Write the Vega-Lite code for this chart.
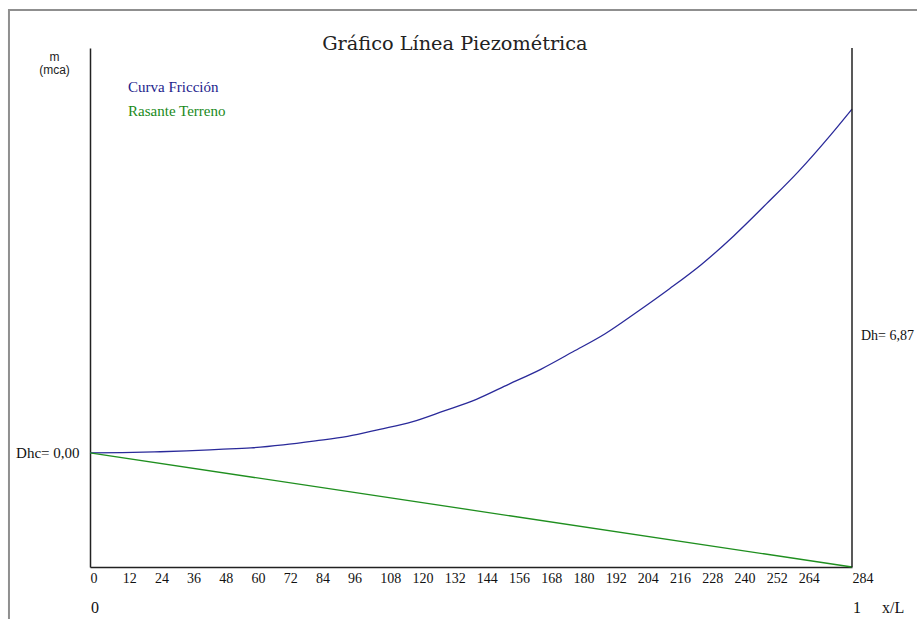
{
  "$schema": "https://vega.github.io/schema/vega-lite/v6.json",
  "width": 762,
  "height": 519,
  "autosize": {"type": "none"},
  "padding": {"left": 90, "top": 48, "right": 65, "bottom": 52},
  "background": "white",
  "config": {
    "view": {"stroke": null},
    "axis": {"grid": false, "ticks": false, "domainColor": "#222222", "domainWidth": 1.5, "labelColor": "#111111", "labelFont": "Liberation Serif"},
    "text": {"font": "Liberation Serif", "fontSize": 15, "color": "#111111"}
  },
  "resolve": {"axis": {"x": "independent", "y": "independent"}},
  "data": {
    "values": [
      {"dist": 0, "cota": 0, "serie": "Curva Fricción"},
      {"dist": 12, "cota": 0.005, "serie": "Curva Fricción"},
      {"dist": 24, "cota": 0.02, "serie": "Curva Fricción"},
      {"dist": 36, "cota": 0.04, "serie": "Curva Fricción"},
      {"dist": 48, "cota": 0.07, "serie": "Curva Fricción"},
      {"dist": 60, "cota": 0.1, "serie": "Curva Fricción"},
      {"dist": 72, "cota": 0.16, "serie": "Curva Fricción"},
      {"dist": 84, "cota": 0.24, "serie": "Curva Fricción"},
      {"dist": 96, "cota": 0.33, "serie": "Curva Fricción"},
      {"dist": 108, "cota": 0.47, "serie": "Curva Fricción"},
      {"dist": 120, "cota": 0.62, "serie": "Curva Fricción"},
      {"dist": 132, "cota": 0.84, "serie": "Curva Fricción"},
      {"dist": 144, "cota": 1.07, "serie": "Curva Fricción"},
      {"dist": 156, "cota": 1.37, "serie": "Curva Fricción"},
      {"dist": 168, "cota": 1.67, "serie": "Curva Fricción"},
      {"dist": 180, "cota": 2.02, "serie": "Curva Fricción"},
      {"dist": 192, "cota": 2.38, "serie": "Curva Fricción"},
      {"dist": 204, "cota": 2.82, "serie": "Curva Fricción"},
      {"dist": 216, "cota": 3.28, "serie": "Curva Fricción"},
      {"dist": 228, "cota": 3.77, "serie": "Curva Fricción"},
      {"dist": 240, "cota": 4.34, "serie": "Curva Fricción"},
      {"dist": 252, "cota": 4.97, "serie": "Curva Fricción"},
      {"dist": 264, "cota": 5.62, "serie": "Curva Fricción"},
      {"dist": 276, "cota": 6.35, "serie": "Curva Fricción"},
      {"dist": 284, "cota": 6.87, "serie": "Curva Fricción"},
      {"dist": 0, "cota": 0, "serie": "Rasante Terreno"},
      {"dist": 284, "cota": -2.28, "serie": "Rasante Terreno"}
    ]
  },
  "layer": [
    {
      "mark": {"type": "line", "interpolate": "monotone", "strokeWidth": 1.3},
      "encoding": {
        "x": {
          "field": "dist",
          "type": "quantitative",
          "scale": {"domain": [0, 284], "nice": false, "zero": false},
          "axis": {
            "values": [0, 12, 24, 36, 48, 60, 72, 84, 96, 108, 120, 132, 144, 156, 168, 180, 192, 204, 216, 228, 240, 252, 264, 284],
            "title": null,
            "labelAlign": "left",
            "labelBaseline": "top",
            "labelPadding": 4,
            "labelDx": 1,
            "labelFlush": false,
            "labelBound": false,
            "labelOverlap": false,
            "labelSeparation": 0,
            "labelFontSize": 14
          }
        },
        "y": {
          "field": "cota",
          "type": "quantitative",
          "scale": {"domain": [-2.28, 8.09], "nice": false, "zero": false},
          "axis": {
            "values": [0],
            "labelExpr": "'Dhc= 0,00'",
            "labelPadding": 11,
            "labelFontSize": 15,
            "title": ["m", "(mca)"],
            "titleAngle": 0,
            "titleAlign": "center",
            "titleBaseline": "top",
            "titleX": -36,
            "titleY": 3,
            "titleFont": "Liberation Sans",
            "titleFontSize": 12,
            "titleFontWeight": "normal",
            "titleLineHeight": 13,
            "titleColor": "#222222"
          }
        },
        "color": {
          "field": "serie",
          "type": "nominal",
          "scale": {"domain": ["Curva Fricción", "Rasante Terreno"], "range": ["#2a2a9a", "#1f8f1f"]},
          "legend": null
        }
      }
    },
    {
      "data": {"values": [{}]},
      "mark": {"type": "rect", "fillOpacity": 0, "stroke": "#8f8f8f", "strokeWidth": 2},
      "encoding": {
        "x": {"datum": -30.2, "type": "quantitative", "axis": null},
        "x2": {"datum": 400},
        "y": {"datum": 8.85, "type": "quantitative", "axis": null},
        "y2": {"datum": -6}
      }
    },
    {
      "data": {"values": [{}]},
      "mark": {"type": "rule", "color": "#222222", "strokeWidth": 1.5},
      "encoding": {
        "x": {"datum": 284, "type": "quantitative", "axis": null},
        "y": {"datum": 8.09, "type": "quantitative", "axis": null},
        "y2": {"datum": -2.28}
      }
    },
    {
      "data": {"values": [{}]},
      "mark": {"type": "text", "align": "center", "baseline": "alphabetic", "font": "DejaVu Serif", "fontSize": 19.3, "color": "#222222"},
      "encoding": {
        "x": {"datum": 136, "type": "quantitative", "axis": null},
        "y": {"datum": 8.05, "type": "quantitative", "axis": null},
        "text": {"value": "Gráfico Línea Piezométrica"}
      }
    },
    {
      "data": {"values": [{}]},
      "mark": {"type": "text", "align": "left", "baseline": "middle", "dx": 9, "fontSize": 14},
      "encoding": {
        "x": {"datum": 284, "type": "quantitative", "axis": null},
        "y": {"datum": 2.34, "type": "quantitative", "axis": null},
        "text": {"value": "Dh= 6,87"}
      }
    },
    {
      "data": {"values": [{}]},
      "mark": {"type": "text", "align": "left", "baseline": "alphabetic", "color": "#22228c"},
      "encoding": {
        "x": {"datum": 14.2, "type": "quantitative", "axis": null},
        "y": {"datum": 7.21, "type": "quantitative", "axis": null},
        "text": {"value": "Curva Fricción"}
      }
    },
    {
      "data": {"values": [{}]},
      "mark": {"type": "text", "align": "left", "baseline": "alphabetic", "color": "#1a8a1a"},
      "encoding": {
        "x": {"datum": 14.2, "type": "quantitative", "axis": null},
        "y": {"datum": 6.73, "type": "quantitative", "axis": null},
        "text": {"value": "Rasante Terreno"}
      }
    },
    {
      "data": {"values": [{}]},
      "mark": {"type": "text", "align": "left", "baseline": "alphabetic", "dx": 1, "dy": 46, "fontSize": 16},
      "encoding": {
        "x": {"datum": 0, "type": "quantitative", "axis": null},
        "y": {"datum": -2.28, "type": "quantitative", "axis": null},
        "text": {"value": "0"}
      }
    },
    {
      "data": {"values": [{}]},
      "mark": {"type": "text", "align": "left", "baseline": "alphabetic", "dx": 1, "dy": 46, "fontSize": 16},
      "encoding": {
        "x": {"datum": 284, "type": "quantitative", "axis": null},
        "y": {"datum": -2.28, "type": "quantitative", "axis": null},
        "text": {"value": "1"}
      }
    },
    {
      "data": {"values": [{}]},
      "mark": {"type": "text", "align": "left", "baseline": "alphabetic", "dx": 30, "dy": 46, "fontSize": 16},
      "encoding": {
        "x": {"datum": 284, "type": "quantitative", "axis": null},
        "y": {"datum": -2.28, "type": "quantitative", "axis": null},
        "text": {"value": "x/L"}
      }
    }
  ]
}
